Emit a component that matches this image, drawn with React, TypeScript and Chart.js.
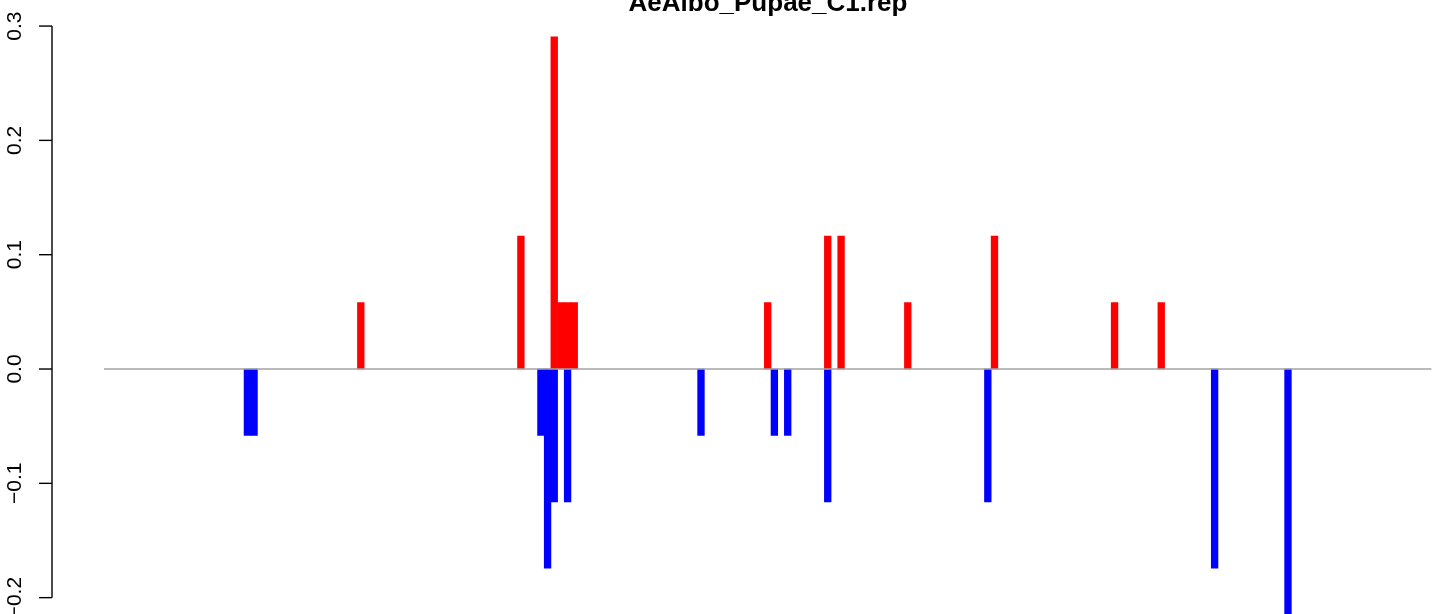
import React, { useEffect, useRef } from "react";
import { Chart, registerables } from "chart.js";

Chart.register(...registerables);

const TITLE = "AeAlbo_Pupae_C1.rep";
const CATEGORY_COUNT = 199;
const categories: string[] = Array.from({ length: CATEGORY_COUNT }, (_, i) => String(i + 1));

// positive (red) bars: category index and value
const upPositions = [38, 62, 67, 68, 69, 70, 99, 108, 110, 120, 133, 151, 158];
const upValues = [0.0581, 0.1162, 0.2905, 0.0581, 0.0581, 0.0581, 0.0581, 0.1162, 0.1162, 0.0581, 0.1162, 0.0581, 0.0581];

// negative (blue) bars: category index and value
const downPositions = [21, 22, 65, 66, 67, 69, 89, 100, 102, 108, 132, 166, 177];
const downValues = [-0.0581, -0.0581, -0.0581, -0.1743, -0.1162, -0.1162, -0.0581, -0.0581, -0.0581, -0.1162, -0.1162, -0.1743, -0.2324];

const yTicks = [-0.2, -0.1, 0.0, 0.1, 0.2, 0.3];
const yTickLabels = ["\u22120.2", "\u22120.1", "0.0", "0.1", "0.2", "0.3"];

function toSeries(positions: number[], values: number[]): (number | null)[] {
  const arr: (number | null)[] = new Array(CATEGORY_COUNT).fill(null);
  positions.forEach((p, i) => {
    arr[p] = values[i];
  });
  return arr;
}

const FONT = "'Liberation Sans', Arial, Helvetica, sans-serif";

const decorPlugin = {
  id: "decor",
  afterDatasetsDraw(chart: any) {
    const { ctx, chartArea, scales } = chart;
    const y = scales.y;
    const y0 = y.getPixelForValue(0);
    ctx.save();
    ctx.strokeStyle = "#A3A3A3";
    ctx.lineWidth = 1.6;
    ctx.beginPath();
    ctx.moveTo(chartArea.left, y0);
    ctx.lineTo(chartArea.right, y0);
    ctx.stroke();
    ctx.restore();
  },
  afterDraw(chart: any) {
    const { ctx, scales } = chart;
    const y = scales.y;
    const axisX = 52;
    ctx.save();
    // y axis line
    ctx.strokeStyle = "#000000";
    ctx.lineWidth = 1.4;
    const top = y.getPixelForValue(yTicks[yTicks.length - 1]);
    const bottom = y.getPixelForValue(yTicks[0]);
    ctx.beginPath();
    ctx.moveTo(axisX, top);
    ctx.lineTo(axisX, bottom);
    ctx.stroke();
    // ticks and labels
    ctx.fillStyle = "#000000";
    ctx.font = `21px ${FONT}`;
    ctx.textAlign = "center";
    ctx.textBaseline = "alphabetic";
    yTicks.forEach((v, i) => {
      const py = y.getPixelForValue(v);
      ctx.beginPath();
      ctx.moveTo(axisX - 13, py);
      ctx.lineTo(axisX, py);
      ctx.stroke();
      ctx.save();
      ctx.translate(20.5, py);
      ctx.rotate(-Math.PI / 2);
      ctx.fillText(yTickLabels[i], 0, 0);
      ctx.restore();
    });
    // title
    ctx.font = `bold 26px ${FONT}`;
    ctx.textAlign = "center";
    ctx.textBaseline = "alphabetic";
    ctx.fillText(TITLE, 768, 11);
    ctx.restore();
  },
};

export default function App() {
  const canvasRef = useRef<HTMLCanvasElement | null>(null);

  useEffect(() => {
    document.body.style.margin = "0";
    document.body.style.background = "#ffffff";
    const canvas = canvasRef.current;
    if (!canvas) return;
    const chart = new Chart(canvas, {
      type: "bar",
      data: {
        labels: categories,
        datasets: [
          {
            data: toSeries(upPositions, upValues),
            backgroundColor: "#FF0000",
            borderWidth: 0,
            grouped: false,
            barPercentage: 1,
            categoryPercentage: 1,
          } as any,
          {
            data: toSeries(downPositions, downValues),
            backgroundColor: "#0000FF",
            borderWidth: 0,
            grouped: false,
            barPercentage: 1,
            categoryPercentage: 1,
          } as any,
        ],
      },
      options: {
        animation: false,
        responsive: false,
        devicePixelRatio: 1,
        layout: { padding: { left: 104, right: 12.6, top: 0, bottom: 0 } },
        plugins: {
          legend: { display: false },
          title: { display: false },
          tooltip: { enabled: false },
        },
        scales: {
          x: { type: "category", display: false, offset: true },
          y: { display: false, min: -0.2143, max: 0.3228 },
        },
      },
      plugins: [decorPlugin],
    });
    return () => chart.destroy();
  }, []);

  return (
    <div style={{ width: 1444, height: 614, background: "#ffffff" }}>
      <canvas ref={canvasRef} width={1444} height={614} style={{ display: "block" }} />
    </div>
  );
}
